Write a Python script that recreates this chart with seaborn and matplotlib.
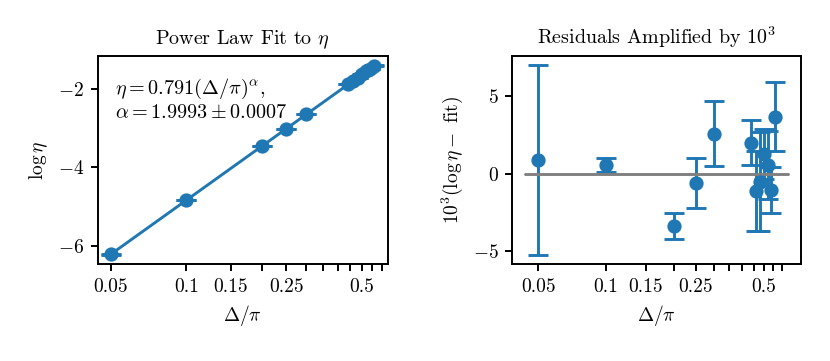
import numpy as np
import matplotlib
matplotlib.use('Agg')
import matplotlib.pyplot as plt
from matplotlib.ticker import NullLocator
import seaborn as sns

# values
delta = np.array([0.05, 0.1, 0.2, 0.25, 0.3, 0.44, 0.46, 0.48, 0.50, 0.52, 0.54, 0.56])
log_eta = np.array([-6.2229, -4.8374, -3.4556, -3.0067, -2.6390, -1.8739,
                    -1.7881, -1.7024, -1.6190, -1.5413, -1.4675, -1.3900])
resid_1e3 = np.array([0.9, 0.6, -3.35, -0.6, 2.6, 2.0, -1.1, -0.5, 1.3, 0.6, -1.05, 3.7])
resid_err_1e3 = np.array([6.1, 0.45, 0.85, 1.6, 2.1, 1.45, 2.6, 3.2, 1.6, 2.2, 1.5, 2.2])
fit_coef = 0.791
alpha = 1.9993
alpha_err = 0.0007

tick_values = [0.05, 0.1, 0.15, 0.2, 0.25, 0.3, 0.35, 0.4, 0.45, 0.5, 0.55, 0.6]
tick_labels = ['0.05', '0.1', '0.15', '', '0.25', '', '', '', '', '0.5', '', '']

sns.set_style('ticks')
plt.rcParams.update({
    'font.family': 'serif',
    'font.serif': ['cmr10'],
    'mathtext.fontset': 'cm',
    'axes.formatter.use_mathtext': True,
    'axes.edgecolor': 'black',
    'axes.linewidth': 1.0,
    'xtick.color': 'black',
    'ytick.color': 'black',
    'text.color': 'black',
    'axes.labelcolor': 'black',
    'font.size': 10,
    'axes.titlesize': 10.3,
    'axes.labelsize': 10,
})

blue = '#1f77b4'
fit_line = log_eta - resid_1e3 / 1000

fig = plt.figure(figsize=(830 / 140, 361 / 140), dpi=140)
ax1 = fig.add_axes([0.1175, 0.2687, 0.3494, 0.5762])
ax2 = fig.add_axes([0.6172, 0.2687, 0.3478, 0.5762])

# left: power law fit
ax1.set_xscale('log')
sns.lineplot(x=delta, y=fit_line, color=blue, lw=1.5, ax=ax1)
ax1.errorbar(delta, log_eta, yerr=resid_err_1e3 / 1000, fmt='none', ecolor=blue,
             elinewidth=1.5, capsize=5, capthick=1.5)
sns.scatterplot(x=delta, y=log_eta, s=40, color=blue, edgecolor=blue, linewidth=1,
                ax=ax1, zorder=3)
ax1.set_title(r'Power Law Fit to $\eta$')
ax1.set_xlabel(r'$\Delta/\pi$')
ax1.set_ylabel(r'$\log \eta$')
ax1.text(0.06, 0.9, rf'$\eta = {fit_coef}(\Delta/\pi)^\alpha$,' + '\n'
         + rf'$\alpha = {alpha} \pm {alpha_err}$',
         transform=ax1.transAxes, va='top', ha='left', fontsize=10.4)

# right: residuals
ax2.set_xscale('log')
ax2.errorbar(delta, resid_1e3, yerr=resid_err_1e3, fmt='none', ecolor=blue,
             elinewidth=1.5, capsize=5, capthick=1.5)
sns.scatterplot(x=delta, y=resid_1e3, s=40, color=blue, edgecolor=blue, linewidth=1,
                ax=ax2, zorder=3)
sns.lineplot(x=[delta.min() / 1.14, delta.max() * 1.14], y=[0, 0], color='gray',
             lw=1.5, ax=ax2, zorder=2.5)
ax2.set_title(r'Residuals Amplified by $10^3$')
ax2.set_xlabel(r'$\Delta/\pi$')
ax2.set_ylabel(r'$10^3(\log \eta -$ fit$)$')
ax2.set_yticks([-5, 0, 5])

for ax in (ax1, ax2):
    ax.set_xticks(tick_values)
    ax.set_xticklabels(tick_labels)
    ax.xaxis.set_minor_locator(NullLocator())
    ax.tick_params(direction='out', length=3.5, width=1.0)

fig.savefig('out.png', dpi=140)
